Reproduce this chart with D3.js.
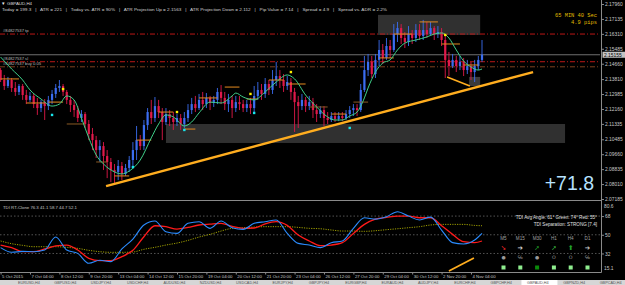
<!DOCTYPE html>
<html>
<head>
<meta charset="utf-8">
<script src="https://cdn.jsdelivr.net/npm/d3@7"></script>
<style>
  body { margin: 0; background: #000; }
  svg { display: block; font-family: "Liberation Sans", Arial, sans-serif; }
</style>
</head>
<body>
<svg width="625" height="285"></svg>
<script>
// ---- values ----
const timeLabels = ["5 Oct 2015", "7 Oct 04:00", "8 Oct 12:00", "9 Oct 20:00", "13 Oct 04:00", "14 Oct 12:00",
  "15 Oct 20:00", "19 Oct 04:00", "20 Oct 12:00", "21 Oct 20:00", "23 Oct 04:00", "26 Oct 12:00",
  "27 Oct 20:00", "29 Oct 04:00", "30 Oct 12:00", "2 Nov 20:00", "4 Nov 04:00"];
const timeBars = [0, 8, 16, 24, 32, 40, 48, 56, 64, 72, 80, 88, 96, 104, 112, 120, 128];

const priceTicks = [2.17960, 2.17135, 2.16310, 2.15485, 2.14660, 2.13810, 2.12985, 2.12160,
  2.11335, 2.10485, 2.09660, 2.08835, 2.08010, 2.07185];
const bid = 2.15155;

const firstOpen = 2.1431;
const closes = [2.1376,2.1343,2.1376,2.1332,2.1310,2.1343,2.1293,2.1266,2.1288,2.1243,
  2.1221,2.1254,2.1232,2.1266,2.1299,2.1332,2.1343,2.1310,2.1266,2.1238,
  2.1210,2.1166,2.1188,2.1133,2.1078,2.1044,2.0989,2.1011,2.0956,2.0923,
  2.0879,2.0868,2.0901,2.0857,2.0890,2.0934,2.0989,2.1044,2.1011,2.1127,
  2.1199,2.1166,2.1232,2.1199,2.1144,2.1188,2.1166,2.1144,2.1166,2.1133,
  2.1166,2.1210,2.1243,2.1221,2.1266,2.1243,2.1277,2.1249,2.1266,2.1310,
  2.1277,2.1243,2.1266,2.1221,2.1254,2.1243,2.1221,2.1243,2.1221,2.1288,
  2.1321,2.1299,2.1354,2.1321,2.1376,2.1398,2.1376,2.1343,2.1365,2.1310,
  2.1254,2.1232,2.1266,2.1232,2.1254,2.1210,2.1188,2.1210,2.1166,2.1155,
  2.1177,2.1161,2.1177,2.1166,2.1188,2.1210,2.1221,2.1210,2.1321,2.1431,
  2.1476,2.1409,2.1487,2.1542,2.1498,2.1564,2.1542,2.1630,2.1663,2.1608,
  2.1586,2.1630,2.1608,2.1652,2.1619,2.1652,2.1630,2.1663,2.1630,2.1641,
  2.1597,2.1487,2.1453,2.1487,2.1453,2.1476,2.1431,2.1453,2.1420,2.1453,
  2.1487,2.1516];
const highs = [2.1442,2.1404,2.1393,2.1387,2.1365,2.1354,2.1354,2.1321,2.1310,2.1299,
  2.1277,2.1266,2.1271,2.1288,2.1321,2.1354,2.1376,2.1354,2.1321,2.1288,
  2.1266,2.1232,2.1210,2.1199,2.1155,2.1111,2.1067,2.1044,2.1033,2.0989,
  2.0945,2.0912,2.0934,2.0923,2.0912,2.0956,2.1033,2.1122,2.1072,2.1155,
  2.1221,2.1266,2.1282,2.1266,2.1221,2.1221,2.1210,2.1199,2.1188,2.1188,
  2.1199,2.1243,2.1277,2.1288,2.1299,2.1310,2.1304,2.1288,2.1288,2.1332,
  2.1348,2.1310,2.1299,2.1288,2.1288,2.1288,2.1266,2.1266,2.1277,2.1343,
  2.1365,2.1354,2.1387,2.1376,2.1431,2.1476,2.1431,2.1409,2.1398,2.1387,
  2.1332,2.1288,2.1299,2.1282,2.1288,2.1277,2.1243,2.1232,2.1232,2.1199,
  2.1199,2.1199,2.1199,2.1199,2.1210,2.1232,2.1243,2.1243,2.1354,2.1509,
  2.1520,2.1509,2.1520,2.1597,2.1575,2.1608,2.1597,2.1685,2.1697,2.1685,
  2.1641,2.1674,2.1652,2.1685,2.1685,2.1708,2.1697,2.1697,2.1674,2.1674,
  2.1663,2.1630,2.1531,2.1520,2.1509,2.1509,2.1498,2.1487,2.1476,2.1487,
  2.1509,2.1597];
const lows = [2.1365,2.1321,2.1332,2.1310,2.1288,2.1293,2.1266,2.1243,2.1254,2.1221,
  2.1183,2.1199,2.1155,2.1210,2.1243,2.1277,2.1310,2.1288,2.1243,2.1199,
  2.1172,2.1144,2.1144,2.1111,2.1044,2.0989,2.0945,2.0923,2.0879,2.0834,
  2.0812,2.0807,2.0823,2.0823,2.0846,2.0868,2.0901,2.0934,2.0989,2.0989,
  2.1100,2.1133,2.1144,2.1166,2.1044,2.1127,2.1122,2.1100,2.1122,2.1100,
  2.1111,2.1144,2.1188,2.1199,2.1210,2.1210,2.1221,2.1210,2.1227,2.1243,
  2.1243,2.1210,2.1199,2.1166,2.1199,2.1210,2.1199,2.1199,2.1188,2.1199,
  2.1266,2.1266,2.1277,2.1293,2.1299,2.1343,2.1332,2.1310,2.1321,2.1266,
  2.1089,2.1111,2.1210,2.1199,2.1210,2.1166,2.1144,2.1166,2.1122,2.1133,
  2.1144,2.1144,2.1149,2.1149,2.1155,2.1166,2.1177,2.1177,2.1199,2.1310,
  2.1398,2.1387,2.1387,2.1453,2.1464,2.1487,2.1498,2.1531,2.1586,2.1575,
  2.1553,2.1564,2.1575,2.1586,2.1597,2.1597,2.1608,2.1619,2.1597,2.1608,
  2.1564,2.1387,2.1398,2.1442,2.1420,2.1431,2.1398,2.1409,2.1376,2.1365,
  2.1431,2.1476];

// green moving average, read at these bars
const maBars = [0,3,6,8,11,14,16,18,20,22,24,26,28,31,33,35,38,41,43,45,47,50,52,54,57,60,63,64,66,69,
  72,75,78,80,83,86,89,91,93,95,97,99,100,102,104,106,108,110,113,116,118,120,122,124,126,128,130,131];
const maPrice = [2.1503,2.1437,2.1376,2.1321,2.1271,2.1232,2.1243,2.1288,2.1266,2.1166,2.1056,2.0962,2.0912,
  2.0868,2.0857,2.0873,2.0934,2.1056,2.1133,2.1183,2.1172,2.1122,2.1144,2.1194,2.1254,2.1249,2.1288,2.1304,
  2.1282,2.1266,2.1310,2.1365,2.1404,2.1382,2.1293,2.1227,2.1172,2.1155,2.1155,2.1177,2.1199,2.1277,2.1332,
  2.1420,2.1470,2.1487,2.1542,2.1580,2.1597,2.1614,2.1630,2.1636,2.1608,2.1542,2.1481,2.1448,2.1431,2.1437];

// short daily level segments
const levelStart = [0,7,13,18,26,31,37,43,50,54,61,67,73,78,84,90,96,103,107,114,120,126];
const levelEnd   = [5,12,17,23,29,35,41,47,53,59,65,70,77,83,89,94,100,107,112,119,125,130];
const levelPrice = [2.1382,2.1249,2.1254,2.1133,2.0923,2.0846,2.1044,2.1199,2.1105,2.1277,2.1337,2.1271,
  2.1376,2.1354,2.1227,2.1188,2.1254,2.1498,2.1630,2.1697,2.1575,2.1459];
const levelKind  = ["o","o","o","b","b","o","o","o","o","o","o","o","o","o","b","o","b","o","o","o","o","o"];

const yellowBars = [17, 48, 68, 79, 121];
const yellowPrice = [2.1326, 2.1199, 2.1299, 2.1420, 2.1625];
const cyanBars = [14, 36, 50, 69, 95];
const cyanPrice = [2.1183, 2.0895, 2.1100, 2.1194, 2.1111];

// zones [startBar, endBar, top, bottom]
const zoneStart = [45, 102.7, 127.5];
const zoneEnd = [153.6, 130.5, 130.5];
const zoneTop = [2.1133, 2.1736, 2.1393];
const zoneBottom = [2.1028, 2.1625, 2.1343];

const trendBars = [28.7, 144.9];
const trendPrice = [2.0790, 2.1420];
const trend2Bars = [121.5, 127.7];
const trend2Price = [2.1393, 2.1343];

const tpPrice = 2.1630, slPrice = 2.1477, buyPrice = 2.1449;

// TDI panel, every third bar (last value at bar 131)
const indBars = d3.range(0, 130, 3).concat([131]);
const tdiBlue = [37.6,33.1,34.0,33.7,35.3,47.8,35.3,32.1,22.5,25.4,24.1,36.3,45.9,59.4,63.2,52.9,51.3,61.0,62.6,
  56.2,63.2,56.8,55.2,61.0,62.6,64.2,51.3,41.7,40.1,37.6,42.4,44.0,56.2,66.4,65.1,67.4,72.2,68.0,64.2,67.0,
  54.5,42.4,41.1,44.9,51.3];
const tdiRed = [40.1,37.6,33.7,33.7,36.3,39.2,40.1,35.3,27.3,25.1,25.1,28.9,35.0,48.1,58.7,57.8,55.5,57.1,59.4,
  60.3,61.0,58.1,56.2,56.5,60.6,62.6,59.0,49.7,44.0,39.5,40.1,42.4,51.3,60.0,65.1,66.7,68.0,68.0,66.4,66.4,
  58.7,50.4,43.3,42.4,44.0];
const tdiYellow = [44.0,41.4,39.8,38.5,38.5,38.5,37.9,36.9,35.0,33.7,33.1,33.1,33.4,36.0,37.9,40.1,42.0,44.6,
  47.8,50.4,53.6,56.2,56.8,57.4,57.8,57.8,57.8,57.1,56.2,55.8,54.6,53.6,53.6,53.3,53.9,54.9,55.8,56.8,57.8,
  59.4,60.0,60.0,60.0,59.0,58.7];
const tdiLevels = [68, 50, 32];
const indTrendBars = [122, 128.8];
const indTrendVal = [15.1, 27.6];

const tfLabels = ["M5", "M15", "M30", "H1", "H4", "D1"];
const tfArrows = ["➘", "➔", "➚", "➚", "⬆", "➔"];
const tfArrowColor = ["#ff2a2a", "#d8d8d8", "#21a32b", "#3dbb45", "#21a32b", "#c8c8c8"];
const tfMarks = ["●", "℅", "●", "O", "O", "℅"];
const tfBoxColor = ["#8fee8f", "#8fee8f", "#0a8a0a", "#8fee8f", "#8fee8f", "#8fee8f"];

const infoText = "Today = 199.3   |   ATR = 221   |   Today vs. ATR = 90%   |   ATR Projection Up = 2.1563   |   ATR Projection Down = 2.112   |   Pip Value = 7.14   |   Spread = 4.9   |   Spread vs. ADR = 2.2%";

const tabs = ["EURUSD,H4","GBPUSD,H4","USDJPY,H4","USDCHF,H4","AUDUSD,H4","NZDUSD,H4","USDCAD,H4","EURJPY,H4",
  "GBPJPY,H4","EURGBP,H4","EURAUD,H4","AUDJPY,H4","EURCHF,H4","GBPCHF,H4","GBPAUD,H4","GBPNZD,H4","GBPCAD,H4"];

// ---- drawing ----
const svg = d3.select("svg");
const up = "#3b6df0", down = "#e0194a", axisCol = "#8a8a8a", txt = "#c8c8c8";

const x = d3.scaleLinear().domain([0, 131]).range([0.6, 482]);
const y = d3.scaleLinear().domain([2.07185, 2.17960]).range([199, 4]);
const yi = d3.scaleLinear().domain([15.1, 80.6]).range([271, 203]);

svg.append("rect").attr("width", 625).attr("height", 285).attr("fill", "#000");

const defs = svg.append("defs");
defs.append("clipPath").attr("id", "cMain").append("rect").attr("width", 600).attr("height", 200);
defs.append("clipPath").attr("id", "cInd").append("rect").attr("y", 201).attr("width", 600).attr("height", 71);

const main = svg.append("g").attr("clip-path", "url(#cMain)");

// zones
main.selectAll(".zone").data(zoneStart).join("rect")
  .attr("x", (d) => x(d))
  .attr("width", (d, k) => x(zoneEnd[k]) - x(d))
  .attr("y", (d, k) => y(zoneTop[k]))
  .attr("height", (d, k) => y(zoneBottom[k]) - y(zoneTop[k]))
  .attr("fill", (d, k) => (k === 2 ? "#3a3a3a" : "#303030"));

// order lines
const orderLines = [
  { p: tpPrice, c: "#d01818", t: "#84827537 tp" },
  { p: slPrice, c: "#d01818", t: "#84827537 sl" },
  { p: buyPrice, c: "#8b4a22", t: "#84827537 buy 0.05" },
];
orderLines.forEach((o) => {
  main.append("line").attr("x1", 0).attr("x2", 600).attr("y1", y(o.p)).attr("y2", y(o.p))
    .attr("stroke", o.c).attr("stroke-width", 0.9).attr("stroke-dasharray", "5,2,1,2");
  main.append("text").attr("x", 3).attr("y", y(o.p) - 2).text(o.t)
    .attr("fill", "#b8b8b8").attr("font-size", 4.2);
});
main.append("line").attr("x1", 0).attr("x2", 600).attr("y1", y(bid)).attr("y2", y(bid))
  .attr("stroke", "#8c8c8c").attr("stroke-width", 0.8);

// candles
const bars = closes.map((c, i) => ({ i, o: i ? closes[i - 1] : firstOpen, c, h: highs[i], l: lows[i] }));
main.selectAll(".wick").data(bars).join("line")
  .attr("x1", (d) => x(d.i)).attr("x2", (d) => x(d.i))
  .attr("y1", (d) => y(d.h)).attr("y2", (d) => y(d.l))
  .attr("stroke", (d) => (d.c >= d.o ? up : down)).attr("stroke-width", 0.9);
main.selectAll(".body").data(bars).join("rect")
  .attr("x", (d) => x(d.i) - 1.1).attr("width", 2.2)
  .attr("y", (d) => y(Math.max(d.o, d.c)))
  .attr("height", (d) => Math.max(0.7, y(Math.min(d.o, d.c)) - y(Math.max(d.o, d.c))))
  .attr("fill", (d) => (d.c >= d.o ? up : down));

// level segments
main.selectAll(".lvl").data(levelPrice).join("line")
  .attr("x1", (d, k) => x(levelStart[k])).attr("x2", (d, k) => x(levelEnd[k]))
  .attr("y1", (d) => y(d)).attr("y2", (d) => y(d))
  .attr("stroke", (d, k) => (levelKind[k] === "o" ? "#e58a1f" : "#8a5a24")).attr("stroke-width", 1);

// moving average
main.append("path")
  .attr("d", d3.line().x((d, k) => x(maBars[k])).y((d) => y(d)).curve(d3.curveMonotoneX)(maPrice))
  .attr("fill", "none").attr("stroke", "#3fd08a").attr("stroke-width", 1);

// signal dots
main.selectAll(".ydot").data(yellowPrice).join("rect")
  .attr("x", (d, k) => x(yellowBars[k]) - 1.2).attr("y", (d) => y(d) - 1.2)
  .attr("width", 2.4).attr("height", 2.4).attr("fill", "#ffee00");
main.selectAll(".cdot").data(cyanPrice).join("rect")
  .attr("x", (d, k) => x(cyanBars[k]) - 1.2).attr("y", (d) => y(d) - 1.2)
  .attr("width", 2.4).attr("height", 2.4).attr("fill", "#19e6ec");

// trend lines
const trend = d3.line().x((d) => x(d[0])).y((d) => y(d[1]));
main.append("path").attr("d", trend(d3.zip(trendBars, trendPrice)))
  .attr("stroke", "#ffad1f").attr("stroke-width", 2.4).attr("fill", "none");
main.append("path").attr("d", trend(d3.zip(trend2Bars, trend2Price)))
  .attr("stroke", "#ffad1f").attr("stroke-width", 1.6).attr("fill", "none");

// header texts
svg.append("text").attr("x", 1.5).attr("y", 4.6).text("▾").attr("fill", "#eee").attr("font-size", 5);
svg.append("text").attr("x", 7).attr("y", 4.8).text("GBPAUD,H4").attr("fill", "#ddd").attr("font-size", 4.4);
svg.append("text").attr("x", 2).attr("y", 11.3).text(infoText)
  .attr("fill", "#d0d0d0").attr("font-size", 4.3).attr("xml:space", "preserve")
  .attr("textLength", 385).attr("lengthAdjust", "spacingAndGlyphs");

svg.append("text").attr("x", 597).attr("y", 16.5).attr("text-anchor", "end").text("65 MIN 40 Sec")
  .attr("fill", "#e0bd00").attr("font-size", 5.4).attr("font-family", "Liberation Mono, monospace");
svg.append("text").attr("x", 597).attr("y", 23.5).attr("text-anchor", "end").text("4.9 pips")
  .attr("fill", "#e0bd00").attr("font-size", 5.4).attr("font-family", "Liberation Mono, monospace");

svg.append("text").attr("x", 594).attr("y", 189.5).attr("text-anchor", "end").text("+71.8")
  .attr("fill", "#b6e2ff").attr("font-size", 19.5);

// price axis
const pAxis = svg.append("g").attr("transform", "translate(601,0)")
  .call(d3.axisRight(y).tickValues(priceTicks).tickSize(3).tickPadding(1).tickFormat(d3.format(".5f")));
pAxis.select(".domain").remove();
pAxis.selectAll("line").attr("stroke", axisCol);
pAxis.selectAll("text").attr("fill", txt).attr("font-size", 4.9).attr("font-family", "Liberation Sans, Arial");
svg.append("rect").attr("x", 602.5).attr("y", y(bid) - 3).attr("width", 22.5).attr("height", 6).attr("fill", "#c4c4c4");
svg.append("text").attr("x", 604).attr("y", y(bid) + 1.8).text(d3.format(".5f")(bid))
  .attr("fill", "#000").attr("font-size", 4.9);

// frame
svg.append("line").attr("x1", 601.5).attr("x2", 601.5).attr("y1", 0).attr("y2", 272.5).attr("stroke", axisCol);
svg.append("line").attr("x1", 0).attr("x2", 601.5).attr("y1", 200.5).attr("y2", 200.5).attr("stroke", axisCol);
svg.append("line").attr("x1", 0).attr("x2", 601.5).attr("y1", 272.5).attr("y2", 272.5).attr("stroke", axisCol);

// indicator panel
const ind = svg.append("g").attr("clip-path", "url(#cInd)");
ind.selectAll(".lev").data(tdiLevels).join("line")
  .attr("x1", 0).attr("x2", 600).attr("y1", (d) => yi(d)).attr("y2", (d) => yi(d))
  .attr("stroke", "#777").attr("stroke-width", 0.7).attr("stroke-dasharray", "1.5,2");
const il = d3.line().x((d, k) => x(indBars[k])).y((d) => yi(d)).curve(d3.curveMonotoneX);
ind.append("path").attr("d", il(tdiYellow)).attr("fill", "none").attr("stroke", "#c8c800")
  .attr("stroke-width", 0.8).attr("stroke-dasharray", "1.2,1.2");
ind.append("path").attr("d", il(tdiRed)).attr("fill", "none").attr("stroke", "#ff1a1a").attr("stroke-width", 1.3);
ind.append("path").attr("d", il(tdiBlue)).attr("fill", "none").attr("stroke", "#2b8cff").attr("stroke-width", 1.1);
ind.append("path").attr("d", d3.line().x((d) => x(d[0])).y((d) => yi(d[1]))(d3.zip(indTrendBars, indTrendVal)))
  .attr("stroke", "#ffad1f").attr("stroke-width", 1.8).attr("fill", "none");

svg.append("text").attr("x", 3).attr("y", 208.5).text("TDI RT-Clone 76.3 41.1 58.7 44.7 52.1")
  .attr("fill", "#c8c8c8").attr("font-size", 4.3);
svg.append("text").attr("x", 597).attr("y", 218.5).attr("text-anchor", "end")
  .text("TDI Avg Angle: 61°   Green: 74°   Red: 55°").attr("fill", "#e0e0e0").attr("font-size", 4.6);
svg.append("text").attr("x", 597).attr("y", 226).attr("text-anchor", "end")
  .text("TDI Separation: STRONG [7.4]").attr("fill", "#e0e0e0").attr("font-size", 4.6);

const tf = d3.scalePoint().domain(tfLabels).range([503.5, 587.5]);
svg.selectAll(".tfl").data(tfLabels).join("text").attr("x", (d) => tf(d)).attr("y", 240)
  .attr("text-anchor", "middle").text((d) => d).attr("fill", "#a0a0a0").attr("font-size", 4.6);
svg.selectAll(".tfa").data(tfLabels).join("text").attr("x", (d) => tf(d)).attr("y", 249.5)
  .attr("text-anchor", "middle").text((d, k) => tfArrows[k]).attr("fill", (d, k) => tfArrowColor[k])
  .attr("font-size", 6.5).attr("font-family", "DejaVu Sans").attr("font-weight", "bold");
svg.selectAll(".tfm").data(tfLabels).join("text").attr("x", (d) => tf(d)).attr("y", 259)
  .attr("text-anchor", "middle").text((d, k) => tfMarks[k]).attr("fill", "#9a9a9a")
  .attr("font-size", 4.8).attr("font-family", "DejaVu Sans");
svg.selectAll(".tfb").data(tfLabels).join("rect").attr("x", (d) => tf(d) - 2).attr("y", 265.5)
  .attr("width", 4).attr("height", 4).attr("fill", (d, k) => tfBoxColor[k]);

// indicator scale labels
const iAxis = svg.append("g").attr("transform", "translate(601,0)")
  .call(d3.axisRight(yi).tickValues(tdiLevels).tickSize(3).tickPadding(1));
iAxis.select(".domain").remove();
iAxis.selectAll("line").attr("stroke", axisCol);
iAxis.selectAll("text").attr("fill", txt).attr("font-size", 4.9);
svg.append("text").attr("x", 604).attr("y", yi(80.6) + 5).text("80.6").attr("fill", txt).attr("font-size", 4.9);
svg.append("text").attr("x", 604).attr("y", yi(15.1) - 1).text("15.1").attr("fill", txt).attr("font-size", 4.9);

// time axis
const tAxis = svg.append("g").attr("transform", "translate(0,272.5)")
  .call(d3.axisBottom(x).tickValues(timeBars).tickSize(2).tickPadding(0.5).tickFormat((d, k) => timeLabels[k]));
tAxis.select(".domain").remove();
tAxis.selectAll("line").attr("stroke", axisCol);
tAxis.selectAll("text").attr("fill", txt).attr("font-size", 4.3).attr("text-anchor", "start").attr("dx", 1);

// symbol tabs strip
svg.append("rect").attr("y", 280).attr("width", 625).attr("height", 5).attr("fill", "#d6d6d6");
const tabX = d3.scaleLinear().domain([0, tabs.length]).range([4, 622]);
svg.selectAll(".tabbg").data(tabs).join("rect")
  .attr("x", (d, k) => tabX(k) + 8.5).attr("y", 280).attr("width", 36).attr("height", 5)
  .attr("fill", (d) => (d === "GBPAUD,H4" ? "#ffffff" : "none"));
svg.selectAll(".tab").data(tabs).join("text")
  .attr("x", (d, k) => tabX(k) + 14).attr("y", 284.2).text((d) => d)
  .attr("fill", "#555").attr("font-size", 3.8);
</script>
</body>
</html>
